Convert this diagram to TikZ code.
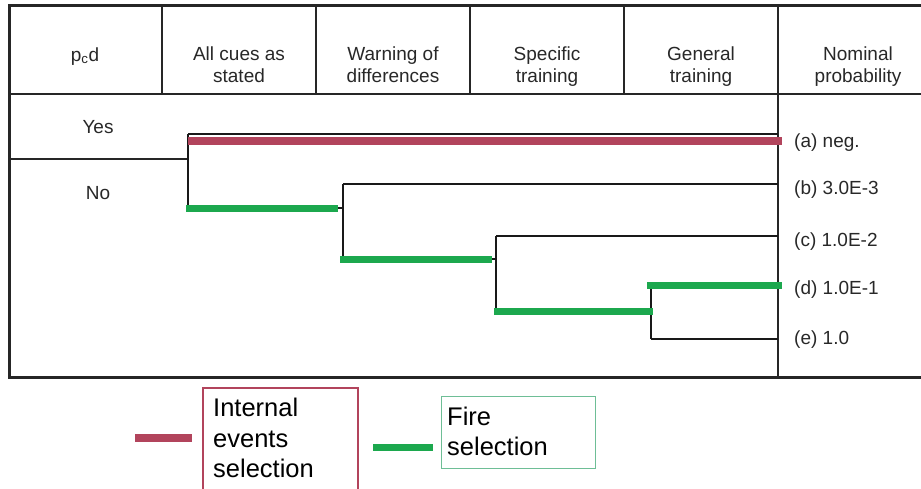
\documentclass[tikz,border=0pt]{standalone}
\usepackage{fontspec}
\setmainfont{Liberation Sans}
\definecolor{ievred}{RGB}{178,68,92}
\definecolor{firegreen}{RGB}{28,168,78}
\definecolor{boxgreen}{RGB}{110,190,150}
\definecolor{txt}{RGB}{40,40,40}
\begin{document}
\begin{tikzpicture}[x=1pt,y=-1pt,
  frame/.style={line width=3pt,black!85},
  divider/.style={line width=1.8pt,black!85},
  branch/.style={line width=2pt,black!90},
  ievline/.style={line width=7.5pt,ievred},
  fireline/.style={line width=7pt,firegreen},
  head/.style={font=\fontsize{19}{22}\selectfont,text=txt,anchor=base,inner sep=0pt},
  prob/.style={font=\fontsize{19}{22}\selectfont,text=txt,anchor=base west,inner sep=0pt},
  legtext/.style={font=\fontsize{25.5}{30}\selectfont,text=black,anchor=base west,inner sep=0pt}]
\clip (0,0) rectangle (921,488);
\fill[white] (0,0) rectangle (921,488);
% table frame
\coordinate (TL) at (9,5);
\coordinate (TR) at (925,5);
\coordinate (BL) at (9,377);
\coordinate (BR) at (925,377);
\draw[frame] (TR) -- (TL) -- (BL) -- (BR);
\draw[divider] (9,94) -- (925,94);
\foreach \x in {162,316,470,624}{\draw[divider] (\x,5) -- (\x,94);}
\draw[divider] (778,5) -- (778,377);
% headers
\node[head] (h1) at (85,61) {p\textsubscript{c}d};
\node[head] (h2a) at (239,60) {All cues as};
\node[head] (h2b) at (239,82) {stated};
\node[head] (h3a) at (393,60) {Warning of};
\node[head] (h3b) at (393,82) {differences};
\node[head] (h4a) at (547,60) {Specific};
\node[head] (h4b) at (547,82) {training};
\node[head] (h5a) at (701,60) {General};
\node[head] (h5b) at (701,82) {training};
\node[head] (h6a) at (858,60) {Nominal};
\node[head] (h6b) at (858,82) {probability};
% yes / no
\node[head] (yes) at (98,133) {Yes};
\node[head] (no) at (98,199) {No};
% tree coordinates
\coordinate (s0) at (9,159);
\coordinate (j1) at (188,159);
\coordinate (y1) at (188,134);
\coordinate (n1) at (188,208);
\coordinate (ea) at (778,134);
\coordinate (j2) at (343,208);
\coordinate (y2) at (343,184);
\coordinate (n2) at (343,259);
\coordinate (eb) at (778,184);
\coordinate (j3) at (496,259);
\coordinate (y3) at (496,236);
\coordinate (n3) at (496,311);
\coordinate (ec) at (778,236);
\coordinate (j4) at (651,311);
\coordinate (y4) at (651,285);
\coordinate (n4) at (651,339);
\coordinate (ed) at (778,285);
\coordinate (ee) at (778,339);
\draw[divider] (s0) -- (j1);
\draw[branch] (y1) -- (n1);
\draw[branch] (y1) -- (ea);
\draw[branch] (n1) -- (j2);
\draw[branch] (y2) -- (n2);
\draw[branch] (y2) -- (eb);
\draw[branch] (n2) -- (j3);
\draw[branch] (y3) -- (n3);
\draw[branch] (y3) -- (ec);
\draw[branch] (n3) -- (j4);
\draw[branch] (y4) -- (n4);
\draw[branch] (y4) -- (ed);
\draw[branch] (n4) -- (ee);
% selections
\draw[ievline] (188,141) -- (782,141);
\draw[fireline] (186,208) -- (338,208);
\draw[fireline] (340,259) -- (492,259);
\draw[fireline] (494,311) -- (653,311);
\draw[fireline] (647,285) -- (782,285);
% probabilities
\node[prob] (pa) at (794,147) {(a) neg.};
\node[prob] (pb) at (794,194) {(b) 3.0E-3};
\node[prob] (pc) at (794,246) {(c) 1.0E-2};
\node[prob] (pd) at (794,294) {(d) 1.0E-1};
\node[prob] (pe) at (794,344) {(e) 1.0};
% legend
\coordinate (lr1) at (135,438);
\coordinate (lr2) at (192,438);
\draw[ievline] (lr1) -- (lr2);
\node[draw=ievred,line width=1.5pt,minimum width=155pt,minimum height=120pt,anchor=north west,inner sep=0pt] (ibox) at (202,387) {};
\node[legtext] (it1) at (213,416) {Internal};
\node[legtext] (it2) at (213,447) {events};
\node[legtext] (it3) at (213,477) {selection};
\coordinate (lg1) at (373,447);
\coordinate (lg2) at (433,447);
\draw[fireline] (lg1) -- (lg2);
\node[draw=boxgreen,line width=1.3pt,minimum width=154pt,minimum height=72pt,anchor=north west,inner sep=0pt] (fbox) at (441,396) {};
\node[legtext] (ft1) at (447,425) {Fire};
\node[legtext] (ft2) at (447,455) {selection};
\end{tikzpicture}
\end{document}
